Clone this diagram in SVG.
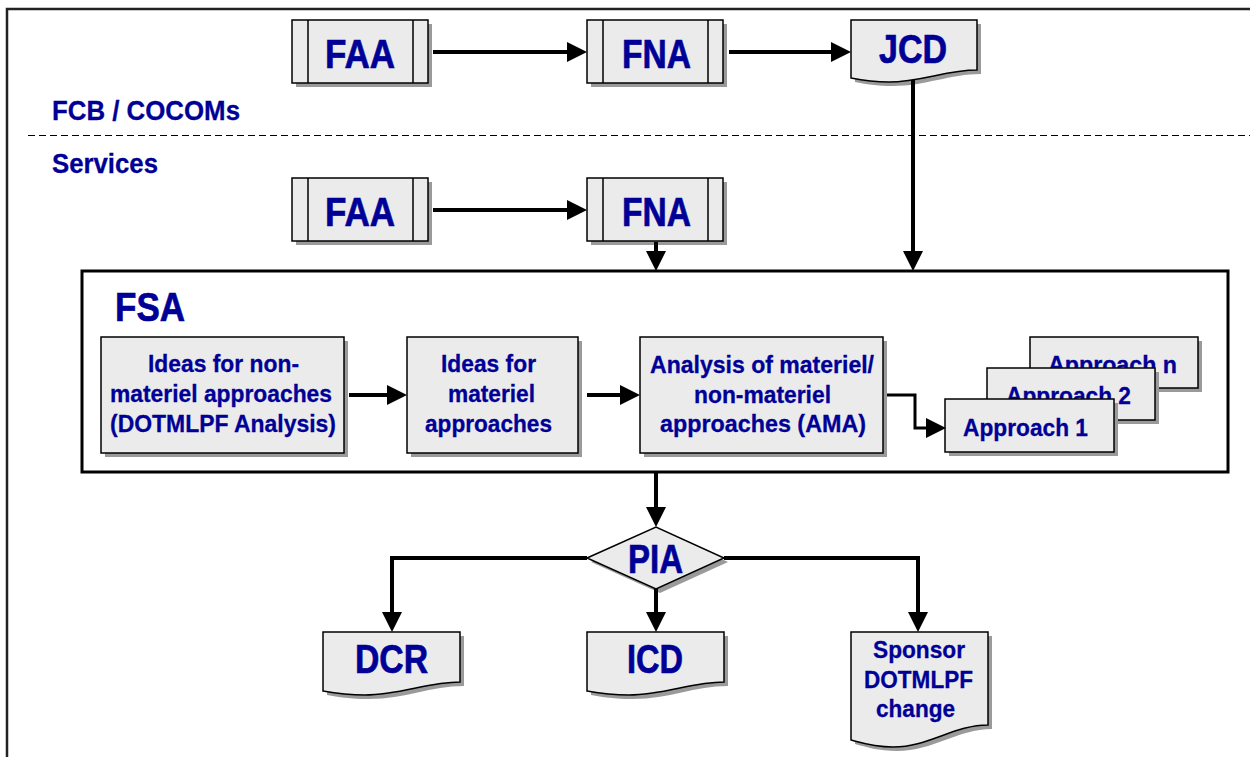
<svg xmlns="http://www.w3.org/2000/svg" xmlns:xlink="http://www.w3.org/1999/xlink" width="1250" height="757" viewBox="0 0 1250 757">
  <style>
    .t { font-family: "Liberation Sans", Arial, Helvetica, sans-serif; font-weight: bold; fill: #000096; }
    .big { font-size: 41px; stroke: #000096; stroke-width: 0.7; }
    .lbl { font-size: 28px; stroke: #000096; stroke-width: 0.3; }
    .mid { font-size: 24px; stroke: #000096; stroke-width: 0.3; }
    .box { fill: #ebebeb; stroke: #000; stroke-width: 1.5; }
    .shd { fill: #9a9a9a; stroke: none; }
    .inner { stroke: #000; stroke-width: 1.5; fill: none; }
    .con { fill: none; stroke: #000; stroke-width: 4; stroke-linejoin: miter; }
    .con3 { fill: none; stroke: #000; stroke-width: 3; stroke-linejoin: miter; }
  </style>
  <defs>
    <marker id="arr" markerUnits="userSpaceOnUse" markerWidth="20" markerHeight="20" refX="0" refY="10" orient="auto" overflow="visible">
      <path d="M0,0 L20,10 L0,20 Z" fill="#000"/>
    </marker>
    <!-- predefined-process box: 136 x 63 -->
    <rect id="proc" x="0" y="0" width="136" height="63"/>
    <!-- document shapes with wavy bottom -->
    <path id="docJ" d="M0,0 H126 V50 C95,50 70,62 38,62 C22,62 10,60 0,58 Z"/>
    <path id="docS" d="M0,0 H137 V50 C104,50 78,63 42,63 C24,63 11,61 0,59 Z"/>
    <path id="docT" d="M0,0 H137 V93 C103,93 78,115 42,115 C24,115 11,111 0,108 Z"/>
  </defs>

  <rect x="0" y="0" width="1250" height="757" fill="#fff"/>

  <!-- page frame -->
  <g id="frame">
    <path d="M7,757 V9 H1250" fill="none" stroke="#222" stroke-width="2.5"/>
  </g>

  <!-- swim-lane labels -->
  <g id="lanes">
    <text class="t lbl" x="52" y="120" textLength="188" lengthAdjust="spacingAndGlyphs">FCB / COCOMs</text>
    <line x1="28" y1="135.5" x2="1250" y2="135.5" stroke="#000" stroke-width="1" stroke-dasharray="7 4"/>
    <text class="t lbl" x="52" y="173" textLength="106" lengthAdjust="spacingAndGlyphs">Services</text>
  </g>

  <!-- FSA container -->
  <g id="fsa">
    <rect x="82" y="271" width="1146" height="201" fill="none" stroke="#000" stroke-width="3"/>
    <text class="t big" x="115" y="321" textLength="70" lengthAdjust="spacingAndGlyphs">FSA</text>
  </g>

  <g id="faa-top">
    <use xlink:href="#proc" x="296" y="24" class="shd"/>
    <use xlink:href="#proc" x="292" y="20" class="box"/>
    <path class="inner" d="M308,20 V83 M413,20 V83"/>
    <text class="t big" x="325" y="68" font-size="42" textLength="70" lengthAdjust="spacingAndGlyphs">FAA</text>
  </g>

  <g id="fna-top">
    <use xlink:href="#proc" x="591" y="24" class="shd"/>
    <use xlink:href="#proc" x="587" y="20" class="box"/>
    <path class="inner" d="M603,20 V83 M708,20 V83"/>
    <text class="t big" x="622" y="68" textLength="69" lengthAdjust="spacingAndGlyphs">FNA</text>
  </g>

  <g id="jcd">
    <use xlink:href="#docJ" x="855" y="24" class="shd"/>
    <use xlink:href="#docJ" x="851" y="20" class="box"/>
    <text class="t big" x="879" y="63" textLength="68" lengthAdjust="spacingAndGlyphs">JCD</text>
  </g>

  <g id="faa-svc">
    <use xlink:href="#proc" x="296" y="182" class="shd"/>
    <use xlink:href="#proc" x="292" y="178" class="box"/>
    <path class="inner" d="M308,178 V241 M413,178 V241"/>
    <text class="t big" x="325" y="226" textLength="70" lengthAdjust="spacingAndGlyphs">FAA</text>
  </g>

  <g id="fna-svc">
    <use xlink:href="#proc" x="591" y="182" class="shd"/>
    <use xlink:href="#proc" x="587" y="178" class="box"/>
    <path class="inner" d="M603,178 V241 M708,178 V241"/>
    <text class="t big" x="622" y="226" textLength="69" lengthAdjust="spacingAndGlyphs">FNA</text>
  </g>

  <g id="ideas-nonmateriel">
    <rect class="shd" x="105" y="341" width="243" height="116"/>
    <rect class="box" x="101" y="337" width="243" height="116"/>
    <text class="t mid" x="148" y="372" textLength="151" lengthAdjust="spacingAndGlyphs">Ideas for non-</text>
    <text class="t mid" x="110" y="402" textLength="222" lengthAdjust="spacingAndGlyphs">materiel approaches</text>
    <text class="t mid" x="110" y="432" textLength="226" lengthAdjust="spacingAndGlyphs">(DOTMLPF Analysis)</text>
  </g>

  <g id="ideas-materiel">
    <rect class="shd" x="411" y="341" width="171" height="116"/>
    <rect class="box" x="407" y="337" width="171" height="116"/>
    <text class="t mid" x="441" y="372" textLength="95" lengthAdjust="spacingAndGlyphs">Ideas for</text>
    <text class="t mid" x="448" y="402" textLength="87" lengthAdjust="spacingAndGlyphs">materiel</text>
    <text class="t mid" x="425" y="432" textLength="127" lengthAdjust="spacingAndGlyphs">approaches</text>
  </g>

  <g id="ama">
    <rect class="shd" x="644" y="341" width="243" height="116"/>
    <rect class="box" x="640" y="337" width="243" height="116"/>
    <text class="t mid" x="650" y="373" textLength="224" lengthAdjust="spacingAndGlyphs">Analysis of materiel/</text>
    <text class="t mid" x="694" y="403" textLength="137" lengthAdjust="spacingAndGlyphs">non-materiel</text>
    <text class="t mid" x="660" y="432" textLength="206" lengthAdjust="spacingAndGlyphs">approaches (AMA)</text>
  </g>

  <g id="approach-n">
    <rect class="shd" x="1034" y="341" width="168" height="51"/>
    <rect class="box" x="1030" y="337" width="168" height="51"/>
    <text class="t mid" x="1048" y="373" textLength="129" lengthAdjust="spacingAndGlyphs">Approach n</text>
  </g>

  <g id="approach-2">
    <rect class="shd" x="991" y="372" width="168" height="52"/>
    <rect class="box" x="987" y="368" width="168" height="52"/>
    <text class="t mid" x="1006" y="404" textLength="125" lengthAdjust="spacingAndGlyphs">Approach 2</text>
  </g>

  <g id="approach-1">
    <rect class="shd" x="949" y="403" width="169" height="53"/>
    <rect class="box" x="945" y="399" width="169" height="53"/>
    <text class="t mid" x="963" y="436" textLength="125" lengthAdjust="spacingAndGlyphs">Approach 1</text>
  </g>

  <g id="pia">
    <polygon class="shd" points="591,562 660,531 728,562 660,593"/>
    <polygon class="box" points="587,558 656,527 724,558 656,589"/>
    <text class="t big" x="628" y="573" font-size="40" textLength="55" lengthAdjust="spacingAndGlyphs">PIA</text>
  </g>

  <g id="dcr">
    <use xlink:href="#docS" x="327" y="636" class="shd"/>
    <use xlink:href="#docS" x="323" y="632" class="box"/>
    <text class="t big" x="355" y="673" font-size="40" textLength="73" lengthAdjust="spacingAndGlyphs">DCR</text>
  </g>

  <g id="icd">
    <use xlink:href="#docS" x="591" y="636" class="shd"/>
    <use xlink:href="#docS" x="587" y="632" class="box"/>
    <text class="t big" x="627" y="673" font-size="40" textLength="56" lengthAdjust="spacingAndGlyphs">ICD</text>
  </g>

  <g id="sponsor-change">
    <use xlink:href="#docT" x="855" y="636" class="shd"/>
    <use xlink:href="#docT" x="851" y="632" class="box"/>
    <text class="t mid" x="873" y="658" textLength="92" lengthAdjust="spacingAndGlyphs">Sponsor</text>
    <text class="t mid" x="864" y="688" textLength="109" lengthAdjust="spacingAndGlyphs">DOTMLPF</text>
    <text class="t mid" x="876" y="717" textLength="79" lengthAdjust="spacingAndGlyphs">change</text>
  </g>

  <!-- connectors -->
  <g id="connectors">
    <path class="con" d="M433,52 H567" marker-end="url(#arr)"/>
    <path class="con" d="M729,52 H831" marker-end="url(#arr)"/>
    <path class="con" d="M913,80 V251" marker-end="url(#arr)"/>
    <path class="con" d="M433,210 H567" marker-end="url(#arr)"/>
    <path class="con" d="M656,242 V251" marker-end="url(#arr)"/>
    <path class="con" d="M349,395 H387" marker-end="url(#arr)"/>
    <path class="con" d="M587,395 H620" marker-end="url(#arr)"/>
    <path class="con3" d="M887,395 H915 V428 H926" marker-end="url(#arr)"/>
    <path class="con" d="M656,473 V507" marker-end="url(#arr)"/>
    <path class="con" d="M587,558 H392 V612" marker-end="url(#arr)"/>
    <path class="con" d="M656,589 V612" marker-end="url(#arr)"/>
    <path class="con" d="M724,558 H918 V612" marker-end="url(#arr)"/>
  </g>
</svg>
